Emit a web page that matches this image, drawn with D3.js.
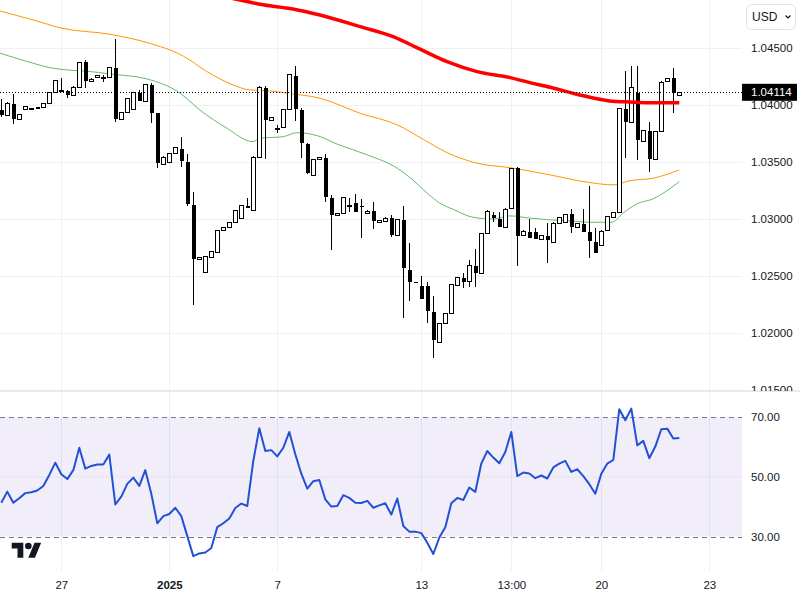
<!DOCTYPE html>
<html>
<head>
<meta charset="utf-8">
<script src="https://cdn.jsdelivr.net/npm/d3@7"></script>
<style>
  html, body { margin: 0; padding: 0; background: #fff; }
  svg { display: block; font-family: "Liberation Sans", Arial, sans-serif; }
</style>
</head>
<body>
<svg id="chart" width="800" height="600"></svg>
<script>
// 4H candles, one entry per bar (index 0..113)
const candleOpen = [
  1.03959, 1.03913, 1.04012, 1.03878, 1.03965, 1.03973, 1.03984, 1.03983, 1.04018, 1.04115,
  1.04128, 1.04123, 1.04088, 1.04164, 1.04378, 1.04211, 1.04246, 1.04248, 1.04246, 1.04328,
  1.03878, 1.03939, 1.03965, 1.04111, 1.04036, 1.04179, 1.03930, 1.03483, 1.03506, 1.03580,
  1.03618, 1.03503, 1.03126, 1.02650, 1.02541, 1.02673, 1.02711, 1.02904, 1.02931, 1.02980,
  1.03015, 1.03118, 1.03085, 1.03550, 1.04150, 1.03869, 1.03797, 1.03813, 1.03965, 1.04260,
  1.03959, 1.03661, 1.03387, 1.03527, 1.03536, 1.03185, 1.03036, 1.03053, 1.03124, 1.03141,
  1.03120, 1.03053, 1.03074, 1.02977, 1.02983, 1.03010, 1.02860, 1.02995, 1.02556, 1.02449,
  1.02418, 1.02416, 1.02190, 1.01927, 1.02089, 1.02182, 1.02427, 1.02486, 1.02457, 1.02591,
  1.02532, 1.02878, 1.03038, 1.03001, 1.02931, 1.03097, 1.03448, 1.02863, 1.02887, 1.02887,
  1.02828, 1.02854, 1.02804, 1.02966, 1.02974, 1.03045, 1.02931, 1.02957, 1.02892, 1.02799,
  1.02775, 1.02907, 1.03018, 1.03062, 1.03965, 1.03851, 1.04106, 1.03690, 1.03775, 1.03532,
  1.03778, 1.04214, 1.04237, 1.04088
];
const candleHigh = [
  1.04053, 1.04025, 1.04100, 1.03926, 1.03994, 1.03978, 1.03986, 1.04020, 1.04117, 1.04225,
  1.04237, 1.04135, 1.04166, 1.04380, 1.04398, 1.04236, 1.04266, 1.04266, 1.04336, 1.04579,
  1.03941, 1.04064, 1.04119, 1.04135, 1.04187, 1.04199, 1.03933, 1.03552, 1.03582, 1.03634,
  1.03720, 1.03571, 1.03238, 1.02669, 1.02678, 1.02722, 1.02906, 1.02933, 1.02976, 1.03082,
  1.03128, 1.03186, 1.03552, 1.04170, 1.04172, 1.03897, 1.03828, 1.03967, 1.04274, 1.04345,
  1.03974, 1.03665, 1.03529, 1.03546, 1.03571, 1.03214, 1.03055, 1.03196, 1.03185, 1.03223,
  1.03176, 1.03078, 1.03150, 1.02997, 1.03017, 1.03036, 1.03003, 1.03117, 1.02790, 1.02452,
  1.02503, 1.02448, 1.02331, 1.02091, 1.02178, 1.02435, 1.02497, 1.02532, 1.02644, 1.02738,
  1.02880, 1.03078, 1.03067, 1.03067, 1.03096, 1.03450, 1.03462, 1.02903, 1.03001, 1.02927,
  1.02865, 1.02971, 1.02973, 1.03020, 1.03047, 1.03091, 1.02968, 1.03091, 1.03293, 1.02922,
  1.02903, 1.03032, 1.03064, 1.03976, 1.04304, 1.04345, 1.04348, 1.03786, 1.03851, 1.03777,
  1.04209, 1.04239, 1.04325, 1.04116
];
const candleLow = [
  1.03901, 1.03907, 1.03837, 1.03876, 1.03963, 1.03970, 1.03969, 1.03981, 1.04016, 1.04113,
  1.04120, 1.04067, 1.04086, 1.04162, 1.04150, 1.04209, 1.04244, 1.04207, 1.04244, 1.03857,
  1.03876, 1.03937, 1.03963, 1.04038, 1.04034, 1.03843, 1.03448, 1.03481, 1.03504, 1.03578,
  1.03462, 1.03120, 1.02249, 1.02648, 1.02539, 1.02671, 1.02709, 1.02902, 1.02929, 1.02978,
  1.03013, 1.03095, 1.03083, 1.03548, 1.03532, 1.03867, 1.03760, 1.03811, 1.03963, 1.03866,
  1.03536, 1.03400, 1.03385, 1.03525, 1.03155, 1.02732, 1.03034, 1.03051, 1.03067, 1.03065,
  1.02839, 1.03051, 1.02918, 1.02975, 1.02981, 1.02848, 1.02858, 1.02138, 1.02287, 1.02446,
  1.02297, 1.02089, 1.01782, 1.01925, 1.02087, 1.02180, 1.02425, 1.02396, 1.02410, 1.02410,
  1.02530, 1.02876, 1.02980, 1.02934, 1.02929, 1.03095, 1.02591, 1.02861, 1.02832, 1.02826,
  1.02826, 1.02615, 1.02802, 1.02964, 1.02972, 1.02883, 1.02929, 1.02890, 1.02659, 1.02706,
  1.02773, 1.02905, 1.03016, 1.03060, 1.03541, 1.03849, 1.03521, 1.03688, 1.03418, 1.03530,
  1.03776, 1.04212, 1.03930, 1.04086
];
const candleClose = [
  1.03918, 1.04018, 1.03883, 1.03924, 1.03992, 1.03975, 1.03971, 1.04018, 1.04115, 1.04222,
  1.04130, 1.04093, 1.04164, 1.04378, 1.04216, 1.04234, 1.04264, 1.04250, 1.04334, 1.03878,
  1.03939, 1.04062, 1.04117, 1.04041, 1.04185, 1.03936, 1.03492, 1.03550, 1.03580, 1.03632,
  1.03515, 1.03132, 1.02653, 1.02667, 1.02676, 1.02720, 1.02904, 1.02931, 1.02974, 1.03080,
  1.03126, 1.03097, 1.03550, 1.04158, 1.03872, 1.03895, 1.03801, 1.03965, 1.04272, 1.03965,
  1.03673, 1.03404, 1.03527, 1.03544, 1.03199, 1.03038, 1.03053, 1.03194, 1.03128, 1.03067,
  1.03116, 1.03076, 1.02986, 1.02995, 1.03015, 1.02863, 1.03001, 1.02571, 1.02454, 1.02448,
  1.02299, 1.02199, 1.01942, 1.02089, 1.02176, 1.02433, 1.02495, 1.02451, 1.02597, 1.02532,
  1.02878, 1.03076, 1.03010, 1.02936, 1.03094, 1.03448, 1.02854, 1.02901, 1.02834, 1.02828,
  1.02863, 1.02819, 1.02971, 1.03018, 1.03045, 1.02936, 1.02966, 1.02892, 1.02813, 1.02708,
  1.02901, 1.03030, 1.03062, 1.03974, 1.03857, 1.04158, 1.03696, 1.03784, 1.03532, 1.03775,
  1.04207, 1.04237, 1.04106, 1.04114
];

// moving averages, read as [bar index, price]
const maGreen = [
  [-0.2, 1.04457], [5.3, 1.04369], [8.1, 1.04330], [11, 1.04310], [14.3, 1.04299], [18.1, 1.04275],
  [24.3, 1.04231], [29.8, 1.04106], [33.1, 1.03959], [37.6, 1.03799], [41.9, 1.03681], [43.1, 1.03711],
  [47, 1.03725], [49.3, 1.03760], [52.8, 1.03731], [56, 1.03659], [61, 1.03565], [66, 1.03448],
  [68.6, 1.03345], [71, 1.03229], [73.1, 1.03141], [75.3, 1.03088], [78.6, 1.03018], [82, 1.03003],
  [84.8, 1.03030], [88.1, 1.03010], [91.5, 1.02995], [94.8, 1.02986], [98.1, 1.02974], [101.8, 1.02974],
  [103.6, 1.03053], [105.9, 1.03135], [108.6, 1.03179], [110.9, 1.03249], [113, 1.03331]
];
const maOrange = [
  [-0.2, 1.04827], [5.3, 1.04749], [10.1, 1.04676], [18.1, 1.04623], [24.3, 1.04550], [30.3, 1.04433],
  [34.3, 1.04295], [38.6, 1.04179], [41.4, 1.04135], [44.8, 1.04126], [47.6, 1.04106], [53.1, 1.04062],
  [59.8, 1.03930], [66, 1.03828], [70.3, 1.03702], [74.3, 1.03585], [79.3, 1.03492], [84.8, 1.03453],
  [91.5, 1.03389], [98.1, 1.03322], [102, 1.03302], [104.8, 1.03339], [108.6, 1.03360], [113, 1.03433]
];
const maRed = [
  [35.6, 1.04968], [39.8, 1.04924], [43.1, 1.04886], [48.6, 1.04845], [53.1, 1.04792], [59.8, 1.04690],
  [65.3, 1.04602], [69.8, 1.04492], [74.3, 1.04383], [79.3, 1.04295], [84.8, 1.04243], [88.1, 1.04199],
  [91.5, 1.04158], [96.4, 1.04091], [101.4, 1.04038], [104.8, 1.04029], [108.6, 1.04023], [113, 1.04023]
];

// RSI, one value per bar
const rsiValues = [
  41.4, 45.1, 41.4, 42.9, 44.6, 44.9, 45.5, 47.0, 50.7, 54.8,
  50.9, 49.3, 52.3, 59.8, 52.8, 53.7, 54.2, 54.2, 57.5, 40.8,
  43.4, 47.7, 49.8, 47.0, 52.3, 44.4, 34.5, 36.9, 37.6, 39.7,
  36.9, 30.2, 23.5, 24.4, 24.7, 26.2, 33.2, 34.5, 36.1, 39.6,
  41.1, 40.3, 55.4, 66.3, 58.7, 59.0, 56.9, 59.8, 65.1, 57.6,
  51.1, 46.1, 48.6, 49.0, 42.5, 40.1, 40.3, 43.9, 43.0, 41.4,
  41.3, 42.0, 39.7, 40.5, 41.2, 37.4, 42.8, 33.6, 31.7, 31.7,
  31.2, 28.0, 24.2, 29.7, 33.2, 41.2, 43.0, 42.3, 46.5, 45.0,
  54.5, 58.7, 56.5, 54.6, 58.4, 65.1, 50.3, 51.5, 51.2, 49.6,
  50.5, 49.5, 53.2, 54.5, 55.4, 51.7, 52.6, 50.3, 47.6, 44.4,
  51.1, 54.5, 55.7, 72.7, 69.0, 72.9, 60.6, 62.1, 56.3, 60.2,
  66.0, 66.2, 62.9, 63.1
];

const lastPrice = 1.04114;
const priceTicks = [1.015, 1.020, 1.025, 1.030, 1.035, 1.040, 1.045];
const rsiTicks = [30, 50, 70];
const timeTickIndex = [10, 28, 46, 70, 85, 100, 118];
const timeTickLabels = ['27', '2025', '7', '13', '13:00', '20', '23'];

const plotRight = 742;
const paneSplit = 391;
const plotBottom = 571;

const svg = d3.select('#chart');

// 6px per bar
const x = d3.scaleLinear().domain([0, 113]).range([1.3, 679.3]);
const y = d3.scaleLinear().domain([1.015, 1.045]).range([390.3, 48.3]);
const yRsi = d3.scaleLinear().domain([30, 70]).range([536.7, 417.3]);

const defs = svg.append('defs');
defs.append('clipPath').attr('id', 'price-clip')
  .append('rect').attr('x', 0).attr('y', 0).attr('width', plotRight).attr('height', paneSplit);
defs.append('clipPath').attr('id', 'axis-clip')
  .append('rect').attr('x', plotRight).attr('y', 0).attr('width', 800 - plotRight).attr('height', paneSplit);

// grid
const grid = svg.append('g').attr('stroke', '#eef0f4').attr('stroke-width', 1);
grid.selectAll('line.v')
  .data(timeTickIndex)
  .join('line')
  .attr('class', 'v')
  .attr('x1', d => Math.round(x(d)) + 0.5).attr('x2', d => Math.round(x(d)) + 0.5)
  .attr('y1', 0).attr('y2', plotBottom);
grid.selectAll('line.h')
  .data(priceTicks)
  .join('line')
  .attr('class', 'h')
  .attr('x1', 0).attr('x2', plotRight)
  .attr('y1', d => Math.round(y(d)) + 0.5).attr('y2', d => Math.round(y(d)) + 0.5);

// RSI pane background band
svg.append('rect')
  .attr('x', 0).attr('width', plotRight)
  .attr('y', yRsi(70)).attr('height', yRsi(30) - yRsi(70))
  .attr('fill', 'rgba(126,87,194,0.1)');

svg.append('line')
  .attr('x1', 0).attr('x2', plotRight)
  .attr('y1', yRsi(50)).attr('y2', yRsi(50))
  .attr('stroke', '#e6e2ef');

svg.selectAll('line.rsi-level')
  .data([70, 30])
  .join('line')
  .attr('class', 'rsi-level')
  .attr('x1', 0).attr('x2', plotRight)
  .attr('y1', d => Math.round(yRsi(d)) + 0.5).attr('y2', d => Math.round(yRsi(d)) + 0.5)
  .attr('stroke', '#787b86')
  .attr('stroke-dasharray', '5 4');

// pane separator
svg.append('line')
  .attr('x1', 0).attr('x2', 800)
  .attr('y1', paneSplit).attr('y2', paneSplit)
  .attr('stroke', '#e0e3eb').attr('stroke-width', 1.5);

// price pane content
const pricePane = svg.append('g').attr('clip-path', 'url(#price-clip)');

const maLine = d3.line()
  .x(d => x(d[0]))
  .y(d => y(d[1]))
  .curve(d3.curveMonotoneX);

pricePane.append('path').datum(maGreen)
  .attr('d', maLine).attr('fill', 'none')
  .attr('stroke', '#66bb6a').attr('stroke-width', 1);
pricePane.append('path').datum(maOrange)
  .attr('d', maLine).attr('fill', 'none')
  .attr('stroke', '#ff9800').attr('stroke-width', 1);

// candles
const bars = d3.range(candleOpen.length);
const isUp = i => candleClose[i] >= candleOpen[i];
const px = i => Math.round(x(i));

pricePane.append('g')
  .selectAll('line')
  .data(bars)
  .join('line')
  .attr('x1', i => px(i) + 0.5).attr('x2', i => px(i) + 0.5)
  .attr('y1', i => Math.round(y(candleHigh[i]))).attr('y2', i => Math.round(y(candleLow[i])))
  .attr('stroke', '#000').attr('stroke-width', 1);

// bodies: hollow white for up bars, solid black for down bars, snapped to pixels
pricePane.append('g')
  .selectAll('rect')
  .data(bars)
  .join('rect')
  .each(function (i) {
    const top = Math.round(y(Math.max(candleOpen[i], candleClose[i])));
    const bottom = Math.round(y(Math.min(candleOpen[i], candleClose[i])));
    const r = d3.select(this);
    if (isUp(i)) {
      r.attr('x', px(i) - 1.5).attr('width', 4)
        .attr('y', top + 0.5).attr('height', Math.max(1, bottom - top))
        .attr('fill', '#fff').attr('stroke', '#000').attr('stroke-width', 1);
    } else {
      r.attr('x', px(i) - 1).attr('width', 4)
        .attr('y', top).attr('height', Math.max(1, bottom - top))
        .attr('fill', '#000');
    }
  });

pricePane.append('path').datum(maRed)
  .attr('d', maLine).attr('fill', 'none')
  .attr('stroke', '#ff0000').attr('stroke-width', 3.5);

// last price dotted line
pricePane.append('line')
  .attr('x1', 0).attr('x2', plotRight)
  .attr('y1', Math.round(y(lastPrice)) + 0.5).attr('y2', Math.round(y(lastPrice)) + 0.5)
  .attr('stroke', '#000').attr('stroke-dasharray', '1 2');

// RSI line
const rsiLine = d3.line()
  .x((d, i) => x(i))
  .y(d => yRsi(d));

svg.append('path').datum(rsiValues)
  .attr('d', rsiLine).attr('fill', 'none')
  .attr('stroke', '#2351d6').attr('stroke-width', 2)
  .attr('stroke-linejoin', 'round');

// axes
function styleAxis(g, size) {
  g.select('.domain').remove();
  g.selectAll('.tick line').remove();
  g.selectAll('text')
    .attr('fill', '#131722')
    .style('font-size', size + 'px')
    .style('font-family', '"Liberation Sans", Arial, sans-serif');
}

svg.append('g')
  .attr('clip-path', 'url(#axis-clip)')
  .append('g')
  .attr('transform', 'translate(751,0)')
  .call(d3.axisRight(y).tickValues(priceTicks).tickFormat(d3.format('.5f')).tickSize(0).tickPadding(0))
  .call(g => styleAxis(g, 11.5));

svg.append('g')
  .attr('transform', 'translate(751,0)')
  .call(d3.axisRight(yRsi).tickValues(rsiTicks).tickFormat(d3.format('.2f')).tickSize(0).tickPadding(0))
  .call(g => styleAxis(g, 11.5));

svg.append('g')
  .attr('transform', `translate(0,${plotBottom})`)
  .call(d3.axisBottom(x).tickValues(timeTickIndex)
    .tickFormat((d, i) => timeTickLabels[i]).tickSize(0).tickPadding(10))
  .call(g => styleAxis(g, 11.5))
  .call(g => g.selectAll('text').filter(d => d === 28).attr('font-weight', 'bold'));

// last price label
const lp = svg.append('g').attr('transform', `translate(${plotRight},${y(lastPrice)})`);
lp.append('rect')
  .attr('x', 0).attr('y', -8.5).attr('width', 55).attr('height', 17)
  .attr('fill', '#000');
lp.append('text')
  .attr('x', 9).attr('dy', '0.35em')
  .attr('fill', '#fff')
  .style('font-size', '11.5px')
  .text(d3.format('.5f')(lastPrice));

// currency button
const btn = svg.append('g');
btn.append('rect')
  .attr('x', 746.5).attr('y', 4.5).attr('width', 49).attr('height', 25).attr('rx', 5)
  .attr('fill', '#fff').attr('stroke', '#e0e3eb');
btn.append('text')
  .attr('x', 752).attr('y', 21)
  .attr('fill', '#131722')
  .style('font-size', '12px')
  .text('USD');
btn.append('path')
  .attr('d', 'M785.5,15.5 l2.5,2.5 l2.5,-2.5')
  .attr('fill', 'none').attr('stroke', '#131722').attr('stroke-width', 1.2);

// TradingView logo
const logo = svg.append('g').attr('transform', 'translate(11.7,539.4) scale(0.83)').attr('fill', '#131722');
logo.append('path').attr('d', 'M14 22H7V11H0V4h14v18z');
logo.append('path').attr('d', 'M28 22h-8l7.5-18h8L28 22z');
logo.append('circle').attr('cx', 20).attr('cy', 8).attr('r', 4);
</script>
</body>
</html>
